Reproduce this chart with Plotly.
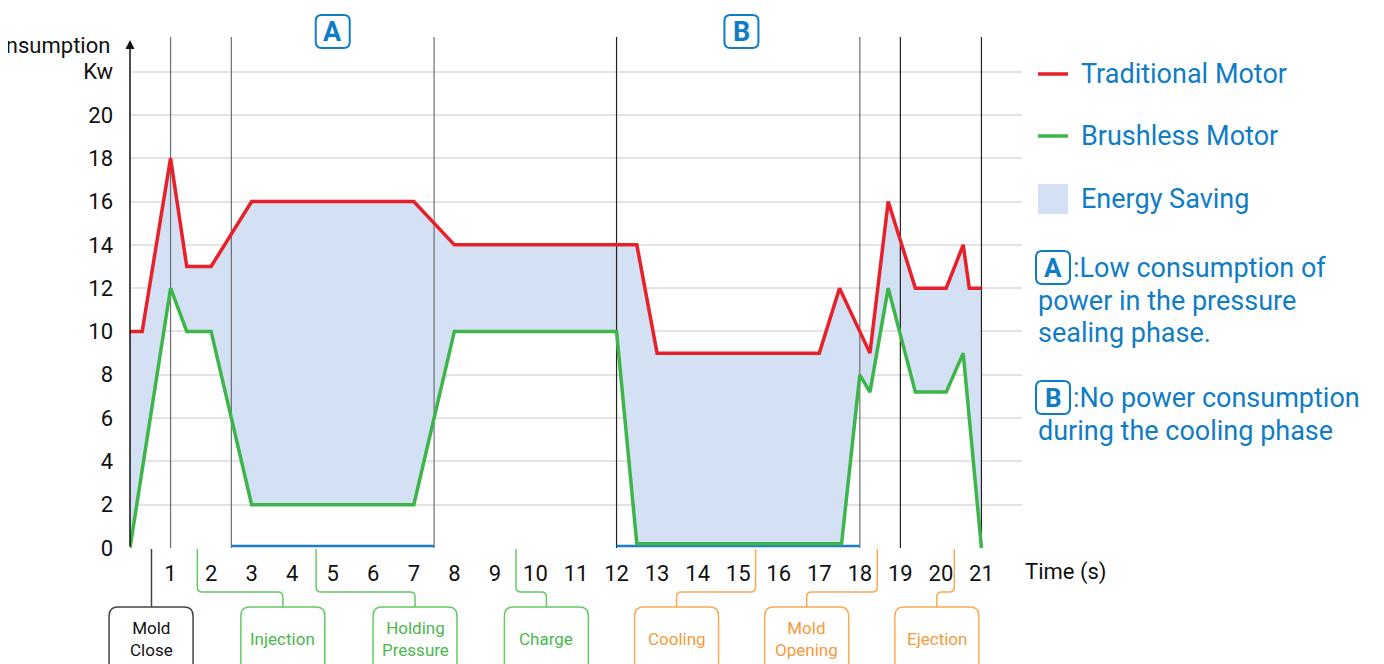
import plotly.graph_objects as go

# ---------------- data ----------------
red_t = [0, 0.3, 1, 1.4, 2, 3, 7, 8, 12.5, 13, 17, 17.5, 18.25, 18.7, 19.37, 20.13, 20.55, 20.7, 21]
red_v = [10, 10, 18, 13, 13, 16, 16, 14, 14, 9, 9, 12, 9, 16, 12, 12, 14, 12, 12]

green_t = [0, 1, 1.4, 2, 3, 7, 8, 12, 12.5, 17.55, 18, 18.25, 18.7, 19.37, 20.13, 20.55, 21]
green_v = [0, 12, 10, 10, 2, 2, 10, 10, 0.2, 0.2, 8, 7.2, 12, 7.2, 7.2, 9, 0]

x_ticks = list(range(1, 22))
y_ticks = [0, 2, 4, 6, 8, 10, 12, 14, 16, 18, 20, 22]
y_ticktext = ["0", "2", "4", "6", "8", "10", "12", "14", "16", "18", "20", "Kw"]

dividers_gray = [1, 2.5, 7.5, 18]
dividers_dark = [12, 19, 21]
phase_a = [2.5, 7.5]
phase_b = [12, 18]
phase_line_level = 0.09
marker_letters = ["A", "B"]
marker_t = [5, 15.08]

phase_labels = ["Mold<br>Close", "Injection", "Holding<br>Pressure", "Charge", "Cooling", "Mold<br>Opening", "Ejection"]
phase_from_t = [0.53, 1.66, 4.59, 9.52, 15.43, 18.43, 20.33]
phase_box_t = [0.52, 3.77, 7.03, 10.27, 13.48, 16.69, 19.9]
phase_kind = ["black", "green", "green", "green", "orange", "orange", "orange"]

legend_names = ["Traditional Motor", "Brushless Motor", "Energy Saving"]
note_a = [":Low consumption of", "power in the pressure", "sealing phase."]
note_b = [":No power consumption", "during the cooling phase"]

# ---------------- style ----------------
W, H = 1384, 664
OFF = 8  # page body margin: screen px = figure px + OFF
# plot area in screen pixels: x 130..1022, y 37..548
SL, SR, ST, SB = 130, 1022, 37, 548
L, T = SL - OFF, ST - OFF
R, B = W - (SR - OFF), H - (SB - OFF)
PW, PH = SR - SL, SB - ST
XR = [0, 22]
YR = [0, 23.6]
FONT = "Roboto"
RED = "#e8202a"
GREEN = "#3db54a"
FILL = "#d4e0f3"
BLUE = "#0f7cc6"
KIND_COL = {
    "black": ("#444444", "#111111"),
    "green": ("#66c866", "#4cb84c"),
    "orange": ("#f8aa55", "#f59a3a"),
}


def tx(t):
    return SL + (t - XR[0]) / (XR[1] - XR[0]) * PW


def ppx(px):
    return (px - SL) / PW


def ppy(py):
    return (SB - py) / PH


def pp(px, py):
    return f"{ppx(px):.5f},{ppy(py):.5f}"


def rrect(x0, y0, x1, y1, r):
    return (f"M {pp(x0 + r, y0)} L {pp(x1 - r, y0)} Q {pp(x1, y0)} {pp(x1, y0 + r)} "
            f"L {pp(x1, y1 - r)} Q {pp(x1, y1)} {pp(x1 - r, y1)} L {pp(x0 + r, y1)} "
            f"Q {pp(x0, y1)} {pp(x0, y1 - r)} L {pp(x0, y0 + r)} Q {pp(x0, y0)} {pp(x0 + r, y0)} Z")


fig = go.Figure()

# energy-saving area between the two curves
fig.add_trace(go.Scatter(
    x=red_t + green_t[::-1], y=red_v + green_v[::-1],
    fill="toself", fillcolor=FILL, mode="lines", line=dict(width=0),
    hoverinfo="skip", showlegend=False))


def vlines(ts, color):
    xs, ys = [], []
    for t in ts:
        xs += [t, t, None]
        ys += [0, YR[1], None]
    fig.add_trace(go.Scatter(x=xs, y=ys, mode="lines", line=dict(color=color, width=1.2),
                             hoverinfo="skip", showlegend=False, cliponaxis=False))


vlines(dividers_gray, "#6e6e6e")
vlines(dividers_dark, "#222222")

for seg in (phase_a, phase_b):
    fig.add_trace(go.Scatter(x=seg, y=[phase_line_level] * 2, mode="lines",
                             line=dict(color="#1a7ed0", width=2.5),
                             hoverinfo="skip", showlegend=False, cliponaxis=False))

fig.add_trace(go.Scatter(x=red_t, y=red_v, mode="lines", line=dict(color=RED, width=3.5),
                         name=legend_names[0], showlegend=False, cliponaxis=False))
fig.add_trace(go.Scatter(x=green_t, y=green_v, mode="lines", line=dict(color=GREEN, width=3.5),
                         name=legend_names[1], showlegend=False, cliponaxis=False))

shapes = []
annotations = []

# axes arrows
annotations.append(dict(x=22, y=-0.03, ax=0, ay=-0.03, xref="x", yref="y", axref="x", ayref="y",
                        text="", showarrow=True, arrowhead=2, arrowsize=1.2, arrowwidth=1.5,
                        arrowcolor="#111"))
annotations.append(dict(x=0, y=23.46, ax=0, ay=0, xref="x", yref="y", axref="x", ayref="y",
                        text="", showarrow=True, arrowhead=2, arrowsize=1.2, arrowwidth=1.5,
                        arrowcolor="#111"))

# axis titles
annotations.append(dict(x=ppx(112), y=ppy(45), xref="paper", yref="paper", xanchor="right",
                        yanchor="middle", text="Consumption", showarrow=False,
                        font=dict(family=FONT, size=22, color="#111")))
annotations.append(dict(x=ppx(1023), y=ppy(572), xref="paper", yref="paper", xanchor="left",
                        yanchor="middle", text="Time (s)", showarrow=False,
                        font=dict(family=FONT, size=22, color="#111")))

# top A/B markers
for letter, t in zip(marker_letters, marker_t):
    cx = tx(t)
    shapes.append(dict(type="path", xref="paper", yref="paper",
                       path=rrect(cx - 17, 15, cx + 17, 48, 6),
                       line=dict(color=BLUE, width=2), fillcolor="white"))
    annotations.append(dict(x=ppx(cx), y=ppy(32), xref="paper", yref="paper", text=f"<b>{letter}</b>",
                            showarrow=False, xanchor="center", yanchor="middle",
                            font=dict(family=FONT, size=27, color=BLUE)))

# bottom phase labels
for lab, t0, tb, kind in zip(phase_labels, phase_from_t, phase_box_t, phase_kind):
    bcol, tcol = KIND_COL[kind]
    x0, xc = tx(t0), tx(tb)
    if abs(x0 - xc) < 3:
        path = f"M {pp(x0, 549)} L {pp(x0, 607)}"
    else:
        s = 1 if xc > x0 else -1
        path = (f"M {pp(x0, 549)} L {pp(x0, 587)} Q {pp(x0, 592)} {pp(x0 + 5 * s, 592)} "
                f"L {pp(xc - 5 * s, 592)} Q {pp(xc, 592)} {pp(xc, 597)} L {pp(xc, 607)}")
    shapes.append(dict(type="path", xref="paper", yref="paper", path=path,
                       line=dict(color=bcol, width=1.5)))
    shapes.append(dict(type="path", xref="paper", yref="paper",
                       path=rrect(xc - 42, 607, xc + 42, 690, 9),
                       line=dict(color=bcol, width=1.5)))
    annotations.append(dict(x=ppx(xc), y=ppy(639), xref="paper", yref="paper", text=lab,
                            showarrow=False, xanchor="center", yanchor="middle",
                            font=dict(family=FONT, size=17, color=tcol)))

# legend
leg_y = [74, 136, 199]
shapes.append(dict(type="line", xref="paper", yref="paper", x0=ppx(1038), x1=ppx(1068),
                   y0=ppy(leg_y[0]), y1=ppy(leg_y[0]), line=dict(color=RED, width=3.5)))
shapes.append(dict(type="line", xref="paper", yref="paper", x0=ppx(1038), x1=ppx(1068),
                   y0=ppy(leg_y[1]), y1=ppy(leg_y[1]), line=dict(color=GREEN, width=3.5)))
shapes.append(dict(type="rect", xref="paper", yref="paper", x0=ppx(1038), x1=ppx(1068),
                   y0=ppy(184), y1=ppy(214), line=dict(width=0), fillcolor=FILL))
for name, yy in zip(legend_names, leg_y):
    annotations.append(dict(x=ppx(1079), y=ppy(yy), xref="paper", yref="paper", text=name,
                            showarrow=False, xanchor="left", yanchor="middle",
                            font=dict(family=FONT, size=27, color=BLUE)))

# notes
for letter, lines, y_top in (("A", note_a, 251), ("B", note_b, 381)):
    shapes.append(dict(type="path", xref="paper", yref="paper",
                       path=rrect(1036, y_top, 1070, y_top + 33, 6),
                       line=dict(color=BLUE, width=2)))
    annotations.append(dict(x=ppx(1053), y=ppy(y_top + 17), xref="paper", yref="paper",
                            text=f"<b>{letter}</b>", showarrow=False, xanchor="center",
                            yanchor="middle", font=dict(family=FONT, size=26, color=BLUE)))
    for i, line in enumerate(lines):
        annotations.append(dict(x=ppx(1071 if i == 0 else 1036), y=ppy(y_top + 17 + 32.5 * i),
                                xref="paper", yref="paper", text=line, showarrow=False,
                                xanchor="left", yanchor="middle",
                                font=dict(family=FONT, size=27, color=BLUE)))

fig.update_layout(
    width=W, height=H, margin=dict(l=L, r=R, t=T, b=B),
    paper_bgcolor="white", plot_bgcolor="white",
    showlegend=False, shapes=shapes, annotations=annotations,
    font=dict(family=FONT, color="#111"),
    xaxis=dict(range=XR, tickvals=x_ticks, ticktext=[str(v) for v in x_ticks],
               showgrid=False, zeroline=False, showline=False, ticks="",
               ticklabelstandoff=10, tickfont=dict(family=FONT, size=22, color="#111"),
               fixedrange=True),
    yaxis=dict(range=YR, tickvals=y_ticks, ticktext=y_ticktext, showgrid=True,
               gridcolor="#e3e3e3", gridwidth=1.5, zeroline=False, showline=False, ticks="",
               ticklabelstandoff=16, tickfont=dict(family=FONT, size=22, color="#111"),
               fixedrange=True),
)

fig.write_html("out.html")
